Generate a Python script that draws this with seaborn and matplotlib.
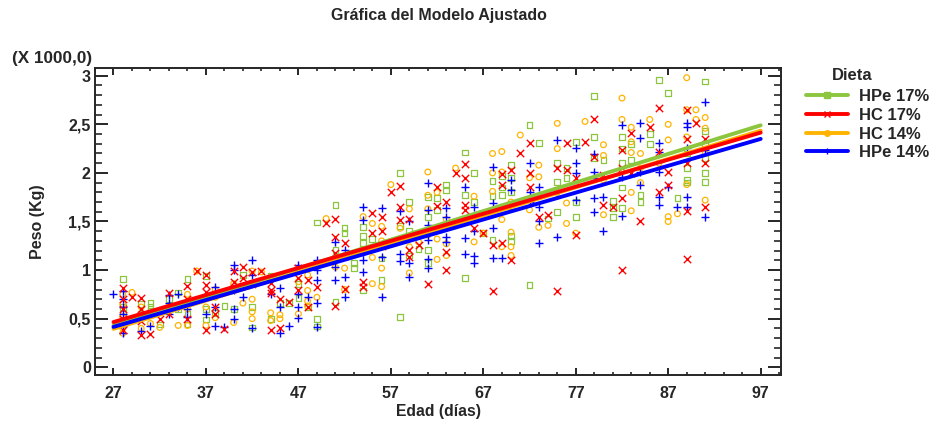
import matplotlib
matplotlib.use("Agg")
import matplotlib.pyplot as plt
import numpy as np
import pandas as pd
import seaborn as sns
from matplotlib.lines import Line2D
from matplotlib.ticker import FixedLocator, FuncFormatter, MultipleLocator

sns.set_style("ticks")
plt.rcParams['font.family'] = ['Liberation Sans', 'DejaVu Sans']
plt.rcParams['font.weight'] = 'bold'

hpe17 = {
    28: [0.91, 0.62, 0.55, 0.45], 30: [0.65, 0.55], 31: [0.66, 0.62, 0.58],
    32: [0.44], 33: [0.70], 34: [0.77, 0.60], 35: [0.91, 0.55, 0.44],
    37: [0.94, 0.49, 0.60], 38: [0.75, 0.56], 39: [0.63], 40: [0.80, 0.60],
    41: [0.95], 42: [0.41, 0.62], 44: [0.94, 0.50], 45: [0.66], 46: [0.66],
    47: [0.86, 0.71], 48: [0.62], 49: [1.49, 0.50, 0.42], 51: [1.67, 1.21, 0.67],
    52: [1.43, 1.38], 53: [1.07, 1.02], 54: [1.44, 1.35, 1.28, 0.79], 55: [1.32],
    56: [0.90, 1.12], 58: [2.00, 0.52, 1.45], 59: [1.70, 1.40, 1.15], 60: [1.22],
    61: [1.75, 1.55, 1.21, 1.07], 62: [1.74, 1.62], 63: [1.88, 1.82],
    65: [2.21, 1.77, 0.92], 66: [2.00, 1.70], 67: [1.38], 68: [1.92, 1.76, 1.31],
    69: [1.97, 1.85, 1.77], 70: [2.08, 1.95, 1.80, 1.66, 1.35, 1.30],
    72: [2.49, 0.85], 73: [2.31], 74: [1.53], 75: [2.10, 1.91, 1.60],
    76: [2.05, 1.95], 77: [2.32, 1.70, 1.55], 79: [2.79, 2.37, 2.15], 80: [2.13],
    81: [1.71, 1.64, 1.55], 82: [2.37, 2.25, 2.10, 1.85, 1.64], 83: [2.13, 2.30],
    84: [1.77, 1.70], 85: [2.40, 2.30], 86: [2.96], 87: [2.82], 88: [1.74],
    89: [2.20, 2.05, 1.93, 1.90], 91: [2.94, 2.43, 2.30, 2.15, 2.00, 1.91],
}
hc17 = {
    28: [0.82, 0.70, 0.60, 0.50, 0.38], 29: [0.72], 30: [0.71, 0.60, 0.48, 0.33],
    31: [0.34], 32: [0.50], 33: [0.76, 0.55], 35: [0.84, 0.70, 0.50], 36: [0.99],
    37: [0.95, 0.85, 0.77, 0.38], 38: [0.62, 0.55], 39: [0.39], 40: [0.99, 0.88],
    41: [1.03, 0.92], 42: [0.98, 0.86], 43: [0.99], 44: [0.87, 0.80, 0.76, 0.38],
    45: [0.70, 0.40], 46: [0.67], 47: [1.02, 0.92, 0.80], 48: [0.90, 0.62],
    49: [0.83], 50: [1.48], 51: [1.53, 1.34, 1.18, 0.63], 52: [1.28, 0.81],
    54: [0.88, 0.83], 55: [1.59, 1.38], 56: [1.55, 1.40, 1.25], 57: [1.80],
    58: [1.87, 1.65, 1.52], 59: [1.53, 1.21, 1.13], 60: [1.26], 61: [0.86],
    62: [1.86, 1.66], 63: [1.70, 1.19, 1.00], 64: [2.00], 65: [2.09, 1.95, 1.67, 1.62],
    66: [1.43], 67: [1.38], 68: [1.26, 0.78], 69: [1.99, 1.88, 1.28], 70: [2.03, 1.10],
    71: [2.21], 72: [2.31, 2.00, 1.86], 73: [1.55], 74: [1.57], 75: [2.05, 0.78],
    76: [2.31, 2.03], 77: [1.95, 1.36], 78: [2.32], 79: [2.55, 2.16], 80: [1.98, 1.67],
    81: [1.65], 82: [2.24, 2.05, 1.74, 1.00], 83: [2.41, 2.00], 84: [1.50], 85: [2.47],
    86: [2.67, 2.22, 1.80], 87: [2.01, 1.88], 89: [2.65, 2.35, 2.10, 1.61, 1.11],
    90: [2.51], 91: [2.35, 2.10, 1.65],
}
hc14 = {
    28: [0.75, 0.65, 0.52, 0.40, 0.35], 29: [0.77], 30: [0.62, 0.40], 31: [0.45],
    32: [0.41], 33: [0.62], 34: [0.43], 35: [0.75, 0.60, 0.43], 36: [0.99],
    37: [0.72, 0.62, 0.43], 38: [0.80, 0.72, 0.51], 40: [0.86, 0.46], 41: [0.66],
    42: [0.99, 0.70, 0.57, 0.50], 43: [0.98], 44: [0.56, 0.48], 45: [0.54, 0.50],
    47: [0.88, 0.55], 48: [0.95, 0.79, 0.68, 0.63], 49: [0.72], 50: [1.53],
    51: [1.03], 52: [1.02, 0.80], 54: [1.55], 55: [1.48, 1.13, 0.86],
    56: [1.45, 1.30, 1.02, 0.83], 57: [1.88], 58: [1.43], 59: [1.63, 1.24, 0.97],
    60: [1.29], 61: [2.01, 1.77, 1.63, 1.36], 62: [1.80, 1.41, 1.32, 1.11],
    63: [1.52, 1.27, 1.15], 64: [2.05], 66: [1.76, 1.55, 1.29], 67: [1.38],
    68: [2.20, 2.00, 1.81], 69: [2.22, 2.01, 1.52, 1.24], 70: [1.70, 1.39, 1.24, 1.15],
    71: [2.39], 72: [1.95, 1.62], 73: [2.08, 1.96, 1.44], 74: [1.46],
    75: [2.51, 2.25, 1.80], 76: [1.69, 1.48], 77: [1.90, 1.38], 78: [2.53],
    80: [2.29, 2.18, 1.93, 1.57], 82: [2.77, 2.55], 83: [2.47, 2.32, 2.21, 1.80, 1.61],
    84: [2.20, 2.05, 1.90], 85: [2.55], 86: [2.10], 87: [2.50, 2.34, 1.55, 1.50],
    88: [1.58], 89: [2.98, 2.65, 2.37, 1.88], 90: [2.65, 2.55], 91: [2.57, 2.46, 2.20, 1.72],
}
hpe14 = {
    27: [0.75], 28: [0.78, 0.70, 0.62, 0.55, 0.48, 0.42, 0.35], 30: [0.37],
    31: [0.55, 0.42], 33: [0.74, 0.66, 0.55], 34: [0.75, 0.62], 35: [0.60, 0.52],
    37: [0.55], 38: [0.83, 0.62, 0.42], 39: [0.41], 40: [1.05, 1.00, 0.80, 0.60, 0.50],
    41: [0.72], 42: [1.10, 0.95, 0.40], 44: [0.75], 45: [0.82, 0.62, 0.35], 46: [0.42],
    47: [1.05, 0.75, 0.62, 0.51], 48: [0.72], 49: [1.10, 1.00, 0.90, 0.66, 0.41],
    51: [1.29, 1.03, 0.90], 52: [1.21, 0.93, 0.72], 54: [1.65, 1.52, 1.19, 1.10, 0.98],
    56: [1.64, 1.13, 0.72], 58: [1.61, 1.17, 1.09], 59: [1.50, 1.07, 0.93],
    61: [1.90, 1.62, 1.46, 1.31, 1.11, 1.02], 63: [1.64, 1.55, 1.34, 1.29],
    65: [1.86, 1.33, 1.17], 66: [1.65, 1.40, 1.15, 1.07], 68: [2.06, 1.69, 1.43, 1.12],
    69: [1.12], 70: [1.93, 1.82], 72: [2.10, 1.80, 1.70], 73: [1.86, 1.65, 1.50, 1.28],
    75: [2.34, 1.34], 77: [2.26, 2.10, 2.00, 1.72], 79: [2.19, 2.01, 1.95, 1.74, 1.60],
    80: [1.75, 1.40], 82: [2.49, 1.96, 1.56], 84: [2.51, 2.36, 2.01, 1.88],
    86: [2.31, 2.22, 2.01, 1.75, 1.67], 87: [1.85], 88: [1.65],
    89: [2.51, 2.47, 2.26, 1.75, 1.65], 91: [2.73, 2.24, 1.55],
}

# fitted model lines (endpoints at 27 and 97 days)
fit_edad = [27, 97]
fit_hpe17 = [0.43, 2.49]
fit_hc17 = [0.465, 2.415]
fit_hc14 = [0.395, 2.435]
fit_hpe14 = [0.415, 2.35]

dietas = ['HPe 17%', 'HC 17%', 'HC 14%', 'HPe 14%']
colores = {'HPe 17%': '#8CC63F', 'HC 17%': '#FF0000',
           'HC 14%': '#FFB400', 'HPe 14%': '#0000FF'}
marcas = {'HPe 17%': 's', 'HC 17%': 'x', 'HC 14%': 'o', 'HPe 14%': '+'}
obs = {'HPe 17%': hpe17, 'HC 17%': hc17, 'HC 14%': hc14, 'HPe 14%': hpe14}
fits = {'HPe 17%': fit_hpe17, 'HC 17%': fit_hc17, 'HC 14%': fit_hc14, 'HPe 14%': fit_hpe14}

rows = []
for d in dietas:
    for edad, pesos in obs[d].items():
        for p in pesos:
            rows.append((d, edad, p))
df = pd.DataFrame(rows, columns=['dieta', 'edad', 'peso'])

fig = plt.figure(figsize=(9.35, 4.26), dpi=100)
ax = fig.add_axes([0.1016, 0.1197, 0.7337, 0.7207])

for d in ['HPe 17%', 'HC 14%', 'HPe 14%', 'HC 17%']:
    sub = df[df.dieta == d]
    if marcas[d] in ('s', 'o'):
        sns.scatterplot(x=sub.edad, y=sub.peso, ax=ax, marker=marcas[d], s=17,
                        facecolor='none', edgecolor=colores[d], linewidth=0.9, zorder=2)
    else:
        sns.scatterplot(x=sub.edad, y=sub.peso, ax=ax, marker=marcas[d], s=28,
                        color=colores[d], linewidth=1.0, zorder=2)

for d in ['HPe 17%', 'HC 14%', 'HPe 14%', 'HC 17%']:
    sns.lineplot(x=fit_edad, y=fits[d], ax=ax, color=colores[d], linewidth=2.8, zorder=3)

ax.set_xlim(25, 99.2)
ax.set_ylim(-0.08, 3.08)
ax.xaxis.set_major_locator(FixedLocator(np.arange(27, 98, 10)))
ax.xaxis.set_minor_locator(FixedLocator(np.arange(25, 100, 2)))
ax.yaxis.set_major_locator(MultipleLocator(0.5))
ax.yaxis.set_minor_locator(MultipleLocator(0.1))
ax.yaxis.set_major_formatter(FuncFormatter(lambda v, p: ('%g' % v).replace('.', ',')))

ax.tick_params(axis='x', which='major', direction='in', length=4.8, width=1.4,
               top=True, bottom=True, labelsize=11.5, pad=8)
ax.tick_params(axis='x', which='minor', direction='in', length=2.4, width=1.2,
               top=True, bottom=True)
ax.tick_params(axis='y', which='major', direction='in', length=9.5, width=1.4,
               left=True, right=True, labelsize=11.5, pad=3)
ax.tick_params(axis='y', which='minor', direction='in', length=4.8, width=1.2,
               left=True, right=True)
for s in ax.spines.values():
    s.set_visible(True)
    s.set_linewidth(1.4)

ax.set_xlabel('Edad (días)', fontsize=11.3, fontweight='bold', labelpad=2)
ax.set_ylabel('Peso (Kg)', fontsize=11.5, fontweight='bold', labelpad=17)
fig.text(0.469, 0.963, 'Gráfica del Modelo Ajustado', ha='center', va='center',
         fontsize=11.5, fontweight='bold')
fig.text(0.013, 0.862, '(X 1000,0)', ha='left', va='center', fontsize=12.3,
         fontweight='bold')
fig.text(852 / 935, 1 - 75 / 426, 'Dieta', ha='center', va='center', fontsize=12,
         fontweight='bold')

handles = [Line2D([], [], color=colores[d], lw=2.8, marker=marcas[d], markersize=4,
                  markeredgewidth=1.0) for d in dietas]
leg = ax.legend(handles, dietas, loc='upper left',
                bbox_to_anchor=(0.855, 0.806), bbox_transform=fig.transFigure,
                frameon=False, fontsize=12, handlelength=2.5, labelspacing=0.22,
                handletextpad=0.7, borderaxespad=0)

fig.savefig('out.png', dpi=100)
